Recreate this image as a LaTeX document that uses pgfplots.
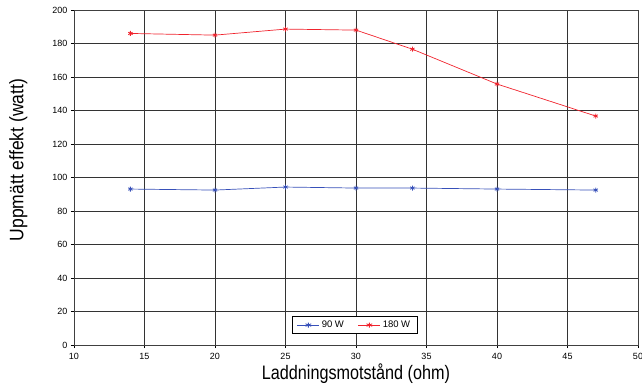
\documentclass[border=0pt]{standalone}
\usepackage{pgfplots}
\pgfplotsset{compat=1.18}
\usepackage{fontspec}
\setmainfont{Liberation Sans}
\definecolor{sblue}{RGB}{55,80,185}
\definecolor{sred}{RGB}{240,35,45}
\begin{document}
\begin{tikzpicture}
\begin{axis}[
  scale only axis,
  width=564bp, height=335bp,
  xmin=10, xmax=50, ymin=0, ymax=200,
  xtick={10,15,...,50}, ytick={0,20,...,200},
  xtick pos=bottom, ytick pos=left,
  tick align=outside, major tick length=3bp,
  grid=major,
  major grid style={black!80, line width=0.8bp},
  axis line style={black!75, line width=0.8bp},
  tick style={black, line width=0.8bp},
  tick label style={font=\fontsize{9bp}{10bp}\selectfont},
  xticklabel style={yshift=-2bp},
  /pgf/number format/assume math mode=true,
  xlabel={\scalebox{0.83}[1]{\fontsize{19.5bp}{20bp}\selectfont Laddningsmotstånd (ohm)}},
  ylabel={\scalebox{0.9}[1]{\fontsize{19.5bp}{20bp}\selectfont Uppmätt effekt (watt)}},
  xlabel style={at={(axis description cs:0.5,0)}, anchor=north, yshift=-15bp},
  ylabel style={at={(axis description cs:0,0.552)}, anchor=south, yshift=43bp},
  legend style={at={(axis cs:29.9,11.9)}, anchor=center, legend columns=2,
    font=\fontsize{9.5bp}{10bp}\selectfont, draw=black, line width=0.6bp,
    inner xsep=5bp, inner ysep=2.5bp,
    /tikz/every even column/.append style={column sep=12bp}},
  legend image post style={xscale=1.3},
  legend cell align=left,
]
\addplot[sblue, line width=0.7bp, mark=asterisk, mark size=2.5bp, mark options={line width=0.8bp}]
  coordinates {(14,93.1) (20,92.5) (25,94.3) (30,93.7) (34,93.7) (40,93.1) (47,92.5)};
\addlegendentry{90 W}
\addplot[sred, line width=0.7bp, mark=asterisk, mark size=2.5bp, mark options={line width=0.8bp}]
  coordinates {(14,186.0) (20,185.0) (25,188.6) (30,188.0) (34,176.6) (40,155.8) (47,136.7)};
\addlegendentry{180 W}
\end{axis}
\pgfresetboundingbox
\path (current axis.south west) ++(-74bp,-41bp) rectangle ++(642bp,386bp);
\end{tikzpicture}
\end{document}
